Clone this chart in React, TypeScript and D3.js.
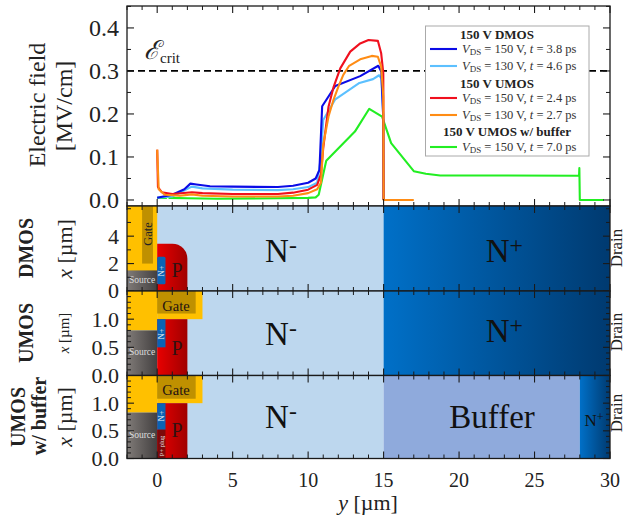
import React from "react";
import * as d3 from "d3";

type P = [number, number];
const dmos150: P[] = [[0,.005],[1,.012],[1.8,.025],[2.2,.038],[2.6,.036],[3.5,.032],[5,.031],[8,.03],[9,.033],[10,.04],[10.5,.05],[10.75,.07],[10.93,.218],[11.8,.265],[13.45,.288],[14.65,.312],[14.85,.298],[14.97,.198],[15,0]];
const dmos130: P[] = [[0,.005],[1,.008],[2,.026],[2.3,.031],[3,.027],[5,.024],[8,.023],[9,.025],[10,.03],[10.6,.04],[10.85,.1],[11,.186],[11.8,.234],[13.4,.272],[14.3,.281],[14.7,.29],[14.85,.283],[14.97,.2],[15,0]];
const umos150: P[] = [[0,.117],[.05,.03],[.3,.018],[1,.014],[2.3,.018],[3,.016],[5,.014],[8,.014],[9,.017],[10,.024],[10.6,.035],[10.85,.06],[11,.12],[11.35,.217],[11.69,.263],[12.13,.306],[12.79,.345],[13.45,.364],[14,.372],[14.62,.37],[14.84,.341],[14.98,.295],[15,0]];
const umos130: P[] = [[0,.117],[.1,.025],[.5,.012],[1.5,.01],[2.3,.013],[3,.01],[5,.008],[8,.008],[9,.01],[10,.016],[10.6,.025],[10.85,.04],[11,.128],[11.35,.194],[11.68,.233],[12,.263],[12.33,.291],[12.72,.312],[13.45,.327],[14.22,.335],[14.62,.333],[14.84,.31],[14.98,.24],[15,0],[17,0]];
const buffer150: P[] = [[0,.005],[.6,.005],[.7,.012],[.8,.005],[2,.004],[4,.003],[8,.004],[10,.005],[10.5,.006],[10.7,.012],[11.2,.091],[13.1,.159],[14.05,.212],[14.9,.194],[15.5,.132],[17,.067],[17.8,.061],[18.75,.057],[23,.057],[27.95,.0565],[27.97,.074],[28,0],[29.6,0]];

const curveOrder = [dmos150, dmos130, umos150, umos130, buffer150];
const fieldTicks = [0, .1, .2, .3, .4];
const fieldMinor = [.05, .15, .25, .35, .45];
const yTicks = [0, 5, 10, 15, 20, 25, 30];
const yMinor = [-2,-1,1,2,3,4,6,7,8,9,11,12,13,14,16,17,18,19,21,22,23,24,26,27,28,29];
const dmosTicks = [0, 2, 4];
const dmosMinor = [1, 3, 5, 6];
const umosTicks = [0, .5, 1];
const umosMinor = [.1,.2,.3,.4,.6,.7,.8,.9,1.1,1.2,1.3,1.4];
const legendRows = [
  { title: "150 V DMOS" },
  { curve: "dmos150", v: "150", t: "3.8" },
  { curve: "dmos130", v: "130", t: "4.6" },
  { title: "150 V UMOS" },
  { curve: "umos150", v: "150", t: "2.4" },
  { curve: "umos130", v: "130", t: "2.7" },
  { title: "150 V UMOS w/ buffer" },
  { curve: "buffer150", v: "150", t: "7.0" },
];
const curveColor: Record<string, string> = { dmos150: "#0b0be6", dmos130: "#5cc0ff", umos150: "#f0101e", umos130: "#ff8c14", buffer150: "#22ee22" };
const colorOrder = ["dmos150", "dmos130", "umos150", "umos130", "buffer150"];

const W = 626, H = 518;
const SERIF = "'Liberation Serif', serif";
const xS = d3.scaleLinear().domain([-2, 30]).range([127, 610]);
const fieldS = d3.scaleLinear().domain([-0.014, 0.451]).range([206, 6]);
const dmosS = d3.scaleLinear().domain([0, 6.2]).range([291, 206]);
const umosS = d3.scaleLinear().domain([0, 1.5]).range([375.5, 291]);
const bufS = d3.scaleLinear().domain([0, 1.5]).range([458.5, 375.5]);
const TICK = "#1a1a1a";

function Rect({ x0, x1, y0, y1, s, fill }: any) {
  return <rect x={xS(x0)} width={xS(x1) - xS(x0)} y={s(y1)} height={s(y0) - s(y1)} fill={fill} />;
}

function Axes({ s, major, minor, labels, fmt, size }: any) {
  const [b, t] = s.range();
  const xs = [xS(-2), xS(30)];
  return (
    <g stroke={TICK}>
      {yTicks.map((v) => <g key={v}><line x1={xS(v)} x2={xS(v)} y1={t} y2={t + 7} strokeWidth={1.1} /><line x1={xS(v)} x2={xS(v)} y1={b} y2={b - 7} strokeWidth={1.1} /></g>)}
      {yMinor.map((v) => <g key={v}><line x1={xS(v)} x2={xS(v)} y1={t} y2={t + 4} strokeWidth={1} /><line x1={xS(v)} x2={xS(v)} y1={b} y2={b - 4} strokeWidth={1} /></g>)}
      {major.map((v: number) => <g key={v}><line x1={xs[0]} x2={xs[0] + 7} y1={s(v)} y2={s(v)} strokeWidth={1.1} /><line x1={xs[1]} x2={xs[1] - 7} y1={s(v)} y2={s(v)} strokeWidth={1.1} /></g>)}
      {minor.map((v: number) => <g key={v}><line x1={xs[0]} x2={xs[0] + 4} y1={s(v)} y2={s(v)} strokeWidth={1} /><line x1={xs[1]} x2={xs[1] - 4} y1={s(v)} y2={s(v)} strokeWidth={1} /></g>)}
      <rect x={xs[0]} y={t} width={xs[1] - xs[0]} height={b - t} fill="none" strokeWidth={1.3} />
      {labels && major.map((v: number) => (
        <text key={v} x={xs[0] - 8} y={s(v)} dy="0.34em" textAnchor="end" stroke="none" fill="#222" fontSize={size}>{fmt(v)}</text>
      ))}
    </g>
  );
}

function VText({ x, y, size, weight, fill, children }: any) {
  return <text transform={`translate(${x},${y}) rotate(-90)`} textAnchor="middle" fontSize={size} fontWeight={weight} fill={fill || "#222"}>{children}</text>;
}

function NPlus({ x, y, size }: any) {
  return <text x={x} y={y} textAnchor="middle" fontSize={size} fill="#111">N<tspan fontSize={size * 0.72} dy={-size * 0.28}>+</tspan></text>;
}
function NMinus({ x, y, size }: any) {
  return <text x={x} y={y} textAnchor="middle" fontSize={size} fill="#111">N<tspan fontSize={size * 0.72} dy={-size * 0.28}>-</tspan></text>;
}

export default function App() {
  const line = d3.line<P>().x((d) => xS(d[0])).y((d) => fieldS(d[1]));
  const pPath = d3.path();
  const r = 15;
  pPath.moveTo(xS(0), dmosS(0));
  pPath.lineTo(xS(0), dmosS(3.45));
  pPath.lineTo(xS(2) - r, dmosS(3.45));
  pPath.arcTo(xS(2), dmosS(3.45), xS(2), dmosS(3.45) + r, r);
  pPath.lineTo(xS(2), dmosS(0));
  pPath.closePath();
  const fmt1 = (v: number) => v.toFixed(1);
  const drawn = ["buffer150", "dmos130", "dmos150", "umos150", "umos130"];
  return (
    <svg width={W} height={H} viewBox={`0 0 ${W} ${H}`} style={{ position: "absolute", left: 0, top: 0, background: "#fff" }} fontFamily={SERIF}>
      <defs>
        <linearGradient id="src"><stop offset="0" stopColor="#807b78" /><stop offset="1" stopColor="#434040" /></linearGradient>
        <linearGradient id="pg"><stop offset="0" stopColor="#e80000" /><stop offset="1" stopColor="#a00000" /></linearGradient>
        <linearGradient id="np"><stop offset="0" stopColor="#0070c8" /><stop offset="1" stopColor="#003a70" /></linearGradient>
      </defs>

      {/* Field panel */}
      <line x1={xS(-2)} x2={xS(30)} y1={fieldS(.3)} y2={fieldS(.3)} stroke="#000" strokeWidth={1.8} strokeDasharray="7 4" />
      {drawn.map((k) => {
        const d = curveOrder[colorOrder.indexOf(k)];
        return <path key={k} d={line(d) || ""} fill="none" stroke={curveColor[k]} strokeWidth={2.1} strokeLinejoin="round" />;
      })}
      <Axes s={fieldS} major={fieldTicks} minor={fieldMinor} labels fmt={fmt1} size={24} />
      <text x={144} y={59} fontSize={26} fontStyle="italic" fill="#222" fontFamily="'DejaVu Serif', serif">ℰ<tspan fontSize={15} fontStyle="normal" dy={4} fontFamily={SERIF}>crit</tspan></text>
      <VText x={45} y={105} size={24}>Electric field</VText>
      <VText x={72} y={106} size={24}>[MV/cm]</VText>

      {/* Legend */}
      <rect x={425.5} y={26} width={163.5} height={130} fill="#fff" fillOpacity={1} stroke="#aaa" strokeWidth={1} />
      {legendRows.map((row: any, i) => {
        const y = [34, 49, 66, 83, 98, 115, 131, 147][i];
        if (row.title) return <text key={i} x={row.title.length > 12 ? 507 : 497} y={y} dy="0.35em" textAnchor="middle" fontSize={13} fontWeight="bold" fill="#222">{row.title}</text>;
        return (
          <g key={i}>
            <line x1={430} x2={457} y1={y} y2={y} stroke={curveColor[row.curve]} strokeWidth={2.1} />
            <text x={462} y={y} dy="0.35em" fontSize={12.5} fill="#333" xmlSpace="preserve">
              <tspan fontStyle="italic">V</tspan><tspan fontSize={9} dy={2}>DS</tspan><tspan dy={-2}> = {row.v} V, </tspan><tspan fontStyle="italic">t</tspan><tspan> = {row.t} ps</tspan>
            </text>
          </g>
        );
      })}

      {/* DMOS panel */}
      <Rect x0={-2} x1={15} y0={0} y1={6.2} s={dmosS} fill="#bdd7ee" />
      <Rect x0={15} x1={30} y0={0} y1={6.2} s={dmosS} fill="url(#np)" />
      <Rect x0={-2} x1={0} y0={0} y1={6.2} s={dmosS} fill="#ffc000" />
      <Rect x0={-1} x1={-0.28} y0={2} y1={6.2} s={dmosS} fill="#bf9000" />
      <Rect x0={-2} x1={0} y0={0} y1={1.5} s={dmosS} fill="url(#src)" />
      <path d={pPath.toString()} fill="url(#pg)" />
      <rect x={xS(0)} width={xS(.55) - xS(0)} y={dmosS(2.5)} height={dmosS(.5) - dmosS(2.5)} rx={1.5} fill="#0a63b4" />
      <VText x={164} y={271} size={8.5} fill="#eee">N+</VText>
      <VText x={152} y={234} size={12.5} fill="#222">Gate</VText>
      <text x={xS(-1)} y={283} textAnchor="middle" fontSize={9.5} fill="#ddd">Source</text>
      <text x={177} y={277} textAnchor="middle" fontSize={20} fill="#311">P</text>
      <NMinus x={xS(8.2)} y={262} size={33} />
      <NPlus x={xS(23)} y={262} size={33} />
      <Axes s={dmosS} major={dmosTicks} minor={dmosMinor} labels fmt={(v: number) => String(v)} size={22} />

      {/* UMOS panel */}
      <Rect x0={-2} x1={15} y0={0} y1={1.5} s={umosS} fill="#bdd7ee" />
      <Rect x0={15} x1={30} y0={0} y1={1.5} s={umosS} fill="url(#np)" />
      <Rect x0={-2} x1={0} y0={.8} y1={1.5} s={umosS} fill="#ffc000" />
      <Rect x0={0} x1={3} y0={1} y1={1.5} s={umosS} fill="#ffc000" />
      <Rect x0={0} x1={2.55} y0={1.1} y1={1.5} s={umosS} fill="#bf9000" />
      <Rect x0={-2} x1={0} y0={0} y1={.8} s={umosS} fill="url(#src)" />
      <Rect x0={0} x1={2} y0={0} y1={1} s={umosS} fill="url(#pg)" />
      <Rect x0={0} x1={.55} y0={.5} y1={1} s={umosS} fill="#0a63b4" />
      <VText x={164} y={334} size={8.5} fill="#eee">N+</VText>
      <text x={xS(1.25)} y={311} textAnchor="middle" fontSize={14.5} fill="#211">Gate</text>
      <text x={xS(-1)} y={355} textAnchor="middle" fontSize={9.5} fill="#ddd">Source</text>
      <text x={177} y={355} textAnchor="middle" fontSize={20} fill="#311">P</text>
      <NMinus x={xS(8.2)} y={345} size={33} />
      <NPlus x={xS(23)} y={342} size={33} />
      <Axes s={umosS} major={umosTicks} minor={umosMinor} labels fmt={fmt1} size={22} />

      {/* UMOS with buffer panel */}
      <Rect x0={-2} x1={15} y0={0} y1={1.5} s={bufS} fill="#bdd7ee" />
      <Rect x0={15} x1={28} y0={0} y1={1.5} s={bufS} fill="#8faadc" />
      <Rect x0={28} x1={30} y0={0} y1={1.5} s={bufS} fill="url(#np)" />
      <Rect x0={-2} x1={0} y0={.83} y1={1.5} s={bufS} fill="#ffc000" />
      <Rect x0={0} x1={3} y0={1} y1={1.5} s={bufS} fill="#ffc000" />
      <Rect x0={0} x1={2.55} y0={1.08} y1={1.5} s={bufS} fill="#bf9000" />
      <Rect x0={-2} x1={0} y0={0} y1={.83} s={bufS} fill="url(#src)" />
      <Rect x0={0} x1={2} y0={0} y1={1} s={bufS} fill="url(#pg)" />
      <Rect x0={0} x1={.55} y0={.52} y1={1} s={bufS} fill="#0a63b4" />
      <Rect x0={0} x1={.55} y0={0} y1={.52} s={bufS} fill="#7c0a0a" />
      <VText x={164} y={416} size={8.5} fill="#eee">N+</VText>
      <VText x={163.5} y={446} size={6.5} fill="#eee">P+ plug</VText>
      <text x={xS(1.25)} y={395} textAnchor="middle" fontSize={14.5} fill="#211">Gate</text>
      <text x={xS(-1)} y={438} textAnchor="middle" fontSize={9.5} fill="#ddd">Source</text>
      <text x={177} y={437} textAnchor="middle" fontSize={20} fill="#311">P</text>
      <NMinus x={xS(8.2)} y={428} size={33} />
      <text x={492} y={428} textAnchor="middle" fontSize={33} fill="#111">Buffer</text>
      <NPlus x={594} y={426} size={17} />
      <Axes s={bufS} major={umosTicks} minor={umosMinor} labels fmt={fmt1} size={22} />

      {/* Bottom tick labels */}
      {yTicks.map((v) => <text key={v} x={xS(v)} y={487} textAnchor="middle" fontSize={20} fill="#222">{v}</text>)}
      <text x={368} y={510} textAnchor="middle" fontSize={22} fill="#222"><tspan fontStyle="italic">y</tspan> [µm]</text>

      {/* Side labels */}
      <VText x={33} y={248} size={20} weight="bold">DMOS</VText>
      <VText x={72} y={249} size={22}><tspan fontStyle="italic">x</tspan> [µm]</VText>
      <VText x={33} y={333} size={20} weight="bold">UMOS</VText>
      <VText x={69} y={333} size={15}><tspan fontStyle="italic">x</tspan> [µm]</VText>
      <VText x={25} y={417} size={20} weight="bold">UMOS</VText>
      <VText x={46} y={416} size={20} weight="bold">w/ buffer</VText>
      <VText x={72} y={417} size={22}><tspan fontStyle="italic">x</tspan> [µm]</VText>
      {[248, 332, 413].map((y) => <VText key={y} x={622} y={y} size={17}>Drain</VText>)}
    </svg>
  );
}
